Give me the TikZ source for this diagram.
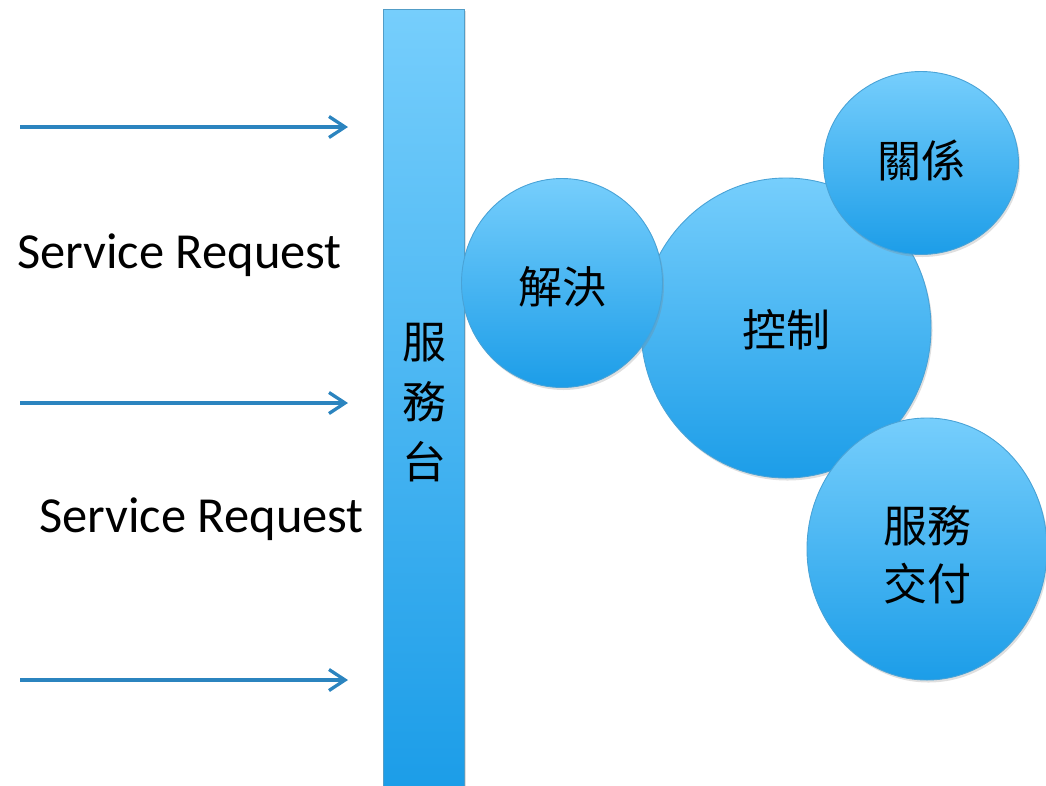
\documentclass[tikz,border=0pt]{standalone}
\usepackage{fontspec}
\setmainfont{Carlito}
\newfontfamily\cjk{Noto Sans CJK TC}
\usetikzlibrary{shapes.geometric,arrows.meta,shadows}
\definecolor{topblue}{HTML}{76CEFC}
\definecolor{botblue}{HTML}{1C9DE8}
\definecolor{edgeblue}{HTML}{3FA9E6}
\definecolor{arrowblue}{HTML}{2B84BF}
\tikzset{
  bubble/.style={ellipse, inner sep=0pt, top color=topblue, bottom color=botblue, draw=edgeblue!85!gray, line width=0.9pt,
    drop shadow={opacity=0.25, shadow xshift=1.5pt, shadow yshift=-2.5pt}},
  barbox/.style={rectangle, inner sep=0pt, top color=topblue, bottom color=botblue, draw=edgeblue!70!gray, line width=0.9pt,
    drop shadow={opacity=0.25, shadow xshift=1.5pt, shadow yshift=-1.5pt}},
  cjklabel/.style={font=\cjk\fontsize{44}{58}\selectfont, align=center, inner sep=0pt},
  reqlabel/.style={font=\fontsize{50.5}{58}\selectfont, inner sep=0pt, anchor=base west},
  inarrow/.style={draw=arrowblue, line width=3.3pt, -{Straight Barb[length=16pt,width=21pt]}}
}
\begin{document}
\begin{tikzpicture}[x=1pt,y=-1pt]
\useasboundingbox (0,0) rectangle (1046,785);
% arrows
\coordinate (a1s) at (20,127); \coordinate (a1e) at (348,127);
\coordinate (a2s) at (20,403); \coordinate (a2e) at (348,403);
\coordinate (a3s) at (20,680); \coordinate (a3e) at (348,680);
\draw[inarrow] (a1s) -- (a1e);
\draw[inarrow] (a2s) -- (a2e);
\draw[inarrow] (a3s) -- (a3e);
% request labels
\node[reqlabel] (req1) at (17,268) {Service Request};
\node[reqlabel] (req2) at (39,532) {Service Request};
% service desk bar
\node[barbox, minimum width=81pt, minimum height=778pt] (desk) at (423.5,398) {};
\node[cjklabel, font=\cjk\fontsize{44}{60}\selectfont] (deskl) at (424,403) {服\\務\\台};
% bubbles
\node[bubble, minimum width=290pt, minimum height=300pt] (control) at (786,328) {};
\node[bubble, minimum width=195pt, minimum height=183pt] (rel) at (921,163) {};
\node[bubble, minimum width=240pt, minimum height=262pt] (deliv) at (927,549) {};
\node[bubble, minimum width=201pt, minimum height=209pt] (resolve) at (562,283) {};
\node[cjklabel] (resolvel) at (resolve.center) [yshift=-4pt] {解決};
\node[cjklabel] (controll) at (control.center) [yshift=-2pt] {控制};
\node[cjklabel] (rell) at (rel.center) [yshift=3pt] {關係};
\node[cjklabel] (delivl) at (deliv.center) [yshift=-6pt] {服務\\交付};
\end{tikzpicture}
\end{document}
